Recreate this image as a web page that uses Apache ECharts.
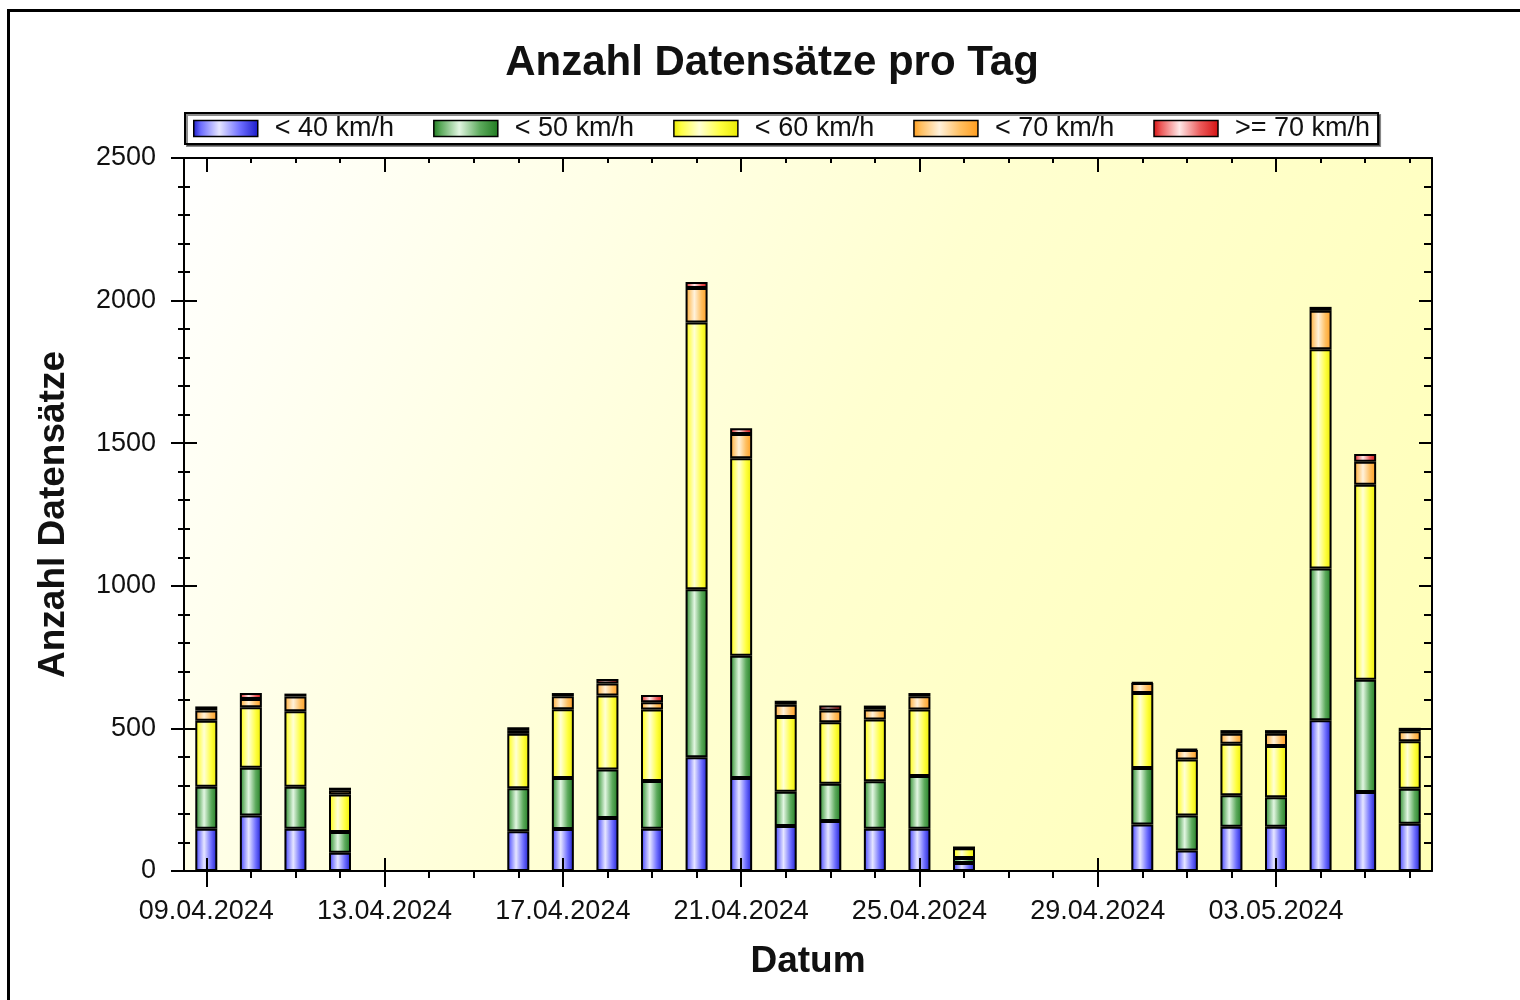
<!DOCTYPE html>
<html><head><meta charset="utf-8">
<script src="https://cdn.jsdelivr.net/npm/echarts@6/dist/echarts.min.js"></script>
<style>html,body{margin:0;padding:0;background:#fff}#c{width:1520px;height:1000px}</style>
</head><body><div id="c"></div><script>
const dates = ['09.04.2024','10.04.2024','11.04.2024','12.04.2024','13.04.2024','14.04.2024','15.04.2024',
  '16.04.2024','17.04.2024','18.04.2024','19.04.2024','20.04.2024','21.04.2024','22.04.2024','23.04.2024',
  '24.04.2024','25.04.2024','26.04.2024','27.04.2024','28.04.2024','29.04.2024','30.04.2024','01.05.2024',
  '02.05.2024','03.05.2024','04.05.2024','05.05.2024','06.05.2024'];
const seriesNames = ['< 40 km/h','< 50 km/h','< 60 km/h','< 70 km/h','>= 70 km/h'];
const lt40 = [148,195,148,64,null,null,null,139,147,186,148,399,326,158,175,148,148,28,null,null,null,163,72,155,155,529,277,166];
const lt50 = [147,167,147,73,null,null,null,151,179,170,168,589,429,120,131,167,185,18,null,null,null,198,123,111,104,532,394,122];
const lt60 = [232,212,265,131,null,null,null,191,241,259,250,935,692,262,216,216,233,34,null,null,null,263,196,180,179,768,683,167];
const lt70 = [36,29,52,15,null,null,null,13,46,42,26,121,85,43,41,35,47,2,null,null,null,35,33,35,43,135,81,35];
const ge70 = [14,21,10,9,null,null,null,10,11,16,25,21,20,14,17,14,11,0,null,null,null,3,4,13,13,14,27,12];
const yMin = 0, yMax = 2500, yStep = 500;

const FF = '"Liberation Sans", Arial, sans-serif';
function grad(edge, mid, center) {
  return new echarts.graphic.LinearGradient(0, 0, 1, 0, [
    {offset: 0, color: edge}, {offset: 0.12, color: mid}, {offset: 0.4, color: center},
    {offset: 0.72, color: mid}, {offset: 1, color: edge}]);
}
const fills = [
  grad('#1a1ac8', '#6e6eff', '#e6e6ff'),
  grad('#1f7a1f', '#5caa5c', '#e2f6e2'),
  grad('#eaea00', '#ffff40', '#ffffd6'),
  grad('#ff9c1c', '#ffbf60', '#fff2dc'),
  grad('#d41010', '#ec5a5a', '#ffe8e8')
];
const values = [lt40, lt50, lt60, lt70, ge70];
const L = {color: '#000', width: 2};
const xBase = {type: 'category', data: dates, boundaryGap: true};
const yBase = {type: 'value', min: yMin, max: yMax, interval: yStep, splitLine: {show: false}};

const chart = echarts.init(document.getElementById('c'), null, {renderer: 'canvas'});
chart.setOption({
  animation: false,
  backgroundColor: '#fff',
  textStyle: {fontFamily: FF},
  title: {text: 'Anzahl Datensätze pro Tag', left: 767, top: 37, textAlign: 'center',
    textStyle: {fontSize: 42, fontWeight: 'bold', color: '#111', fontFamily: FF}},
  legend: {left: 185, top: 113, itemWidth: 64, itemHeight: 16, itemGap: 39, padding: [2, 8],
    borderColor: '#000', borderWidth: 2, backgroundColor: '#fff',
    shadowColor: 'rgba(0,0,0,0.45)', shadowOffsetX: 2, shadowOffsetY: 2, shadowBlur: 0,
    selectedMode: false, icon: 'rect', data: seriesNames,
    itemStyle: {borderColor: '#000', borderWidth: 1.5},
    textStyle: {fontSize: 27, color: '#111', fontFamily: FF, padding: [0, 0, 0, 12]}},
  grid: {left: 184, right: 88, top: 158, bottom: 129, show: true, borderWidth: 0,
    backgroundColor: new echarts.graphic.LinearGradient(0, 0, 1, 1, [
      {offset: 0, color: '#ffffff'}, {offset: 0.5, color: '#ffffd0'}, {offset: 1, color: '#ffffb6'}])},
  xAxis: [
    Object.assign({}, xBase, {position: 'bottom',
      axisLine: {show: true, onZero: false, lineStyle: L},
      axisTick: {show: true, alignWithLabel: true, interval: 0, length: 7, lineStyle: L},
      axisLabel: {interval: 3, margin: 27, color: '#111', fontSize: 27, fontFamily: FF},
      name: 'Datum', nameLocation: 'middle', nameGap: 72,
      nameTextStyle: {fontSize: 37, fontWeight: 'bold', color: '#111', fontFamily: FF}}),
    Object.assign({}, xBase, {position: 'bottom',
      axisLine: {show: false, onZero: false},
      axisTick: {show: true, alignWithLabel: true, interval: 3, length: 16, lineStyle: L},
      axisLabel: {show: false}}),
    Object.assign({}, xBase, {position: 'bottom', z: 5,
      axisLine: {show: false, onZero: false},
      axisTick: {show: true, inside: true, alignWithLabel: true, interval: 3, length: 13, lineStyle: L},
      axisLabel: {show: false}}),
    Object.assign({}, xBase, {position: 'top',
      axisLine: {show: true, onZero: false, lineStyle: L},
      axisTick: {show: true, inside: true, alignWithLabel: true, interval: 0, length: 5, lineStyle: L},
      axisLabel: {show: false}}),
    Object.assign({}, xBase, {position: 'top',
      axisLine: {show: false, onZero: false},
      axisTick: {show: true, inside: true, alignWithLabel: true, interval: 3, length: 14, lineStyle: L},
      axisLabel: {show: false}})
  ],
  yAxis: [
    Object.assign({}, yBase, {position: 'left',
      axisLine: {show: true, onZero: false, lineStyle: L},
      axisTick: {show: true, length: 13, lineStyle: L},
      minorTick: {show: true, splitNumber: 5, length: 6, lineStyle: L},
      axisLabel: {margin: 28, color: '#111', fontSize: 27, fontFamily: FF, formatter: v => String(v)},
      name: 'Anzahl Datensätze', nameLocation: 'middle', nameGap: 112,
      nameTextStyle: {fontSize: 37, fontWeight: 'bold', color: '#111', fontFamily: FF}}),
    Object.assign({}, yBase, {position: 'left',
      axisLine: {show: false, onZero: false},
      axisTick: {show: true, inside: true, length: 13, lineStyle: L},
      minorTick: {show: true, splitNumber: 5, length: 6, lineStyle: L},
      axisLabel: {show: false}}),
    Object.assign({}, yBase, {position: 'right',
      axisLine: {show: true, onZero: false, lineStyle: L},
      axisTick: {show: true, inside: true, length: 13, lineStyle: L},
      minorTick: {show: true, splitNumber: 5, length: 8, lineStyle: L},
      axisLabel: {show: false}})
  ],
  series: seriesNames.map((n, i) => ({
    name: n, type: 'bar', stack: 'total', xAxisIndex: 0, yAxisIndex: 0,
    barWidth: 22, data: values[i],
    itemStyle: {color: fills[i], borderColor: '#000', borderWidth: 2},
    emphasis: {disabled: true}
  })),
  graphic: [
    {type: 'line', shape: {x1: 7, y1: 10.5, x2: 1520, y2: 10.5}, style: {stroke: '#000', lineWidth: 3}},
    {type: 'line', shape: {x1: 8.5, y1: 9, x2: 8.5, y2: 1000}, style: {stroke: '#000', lineWidth: 3}}
  ]
});
</script></body></html>
